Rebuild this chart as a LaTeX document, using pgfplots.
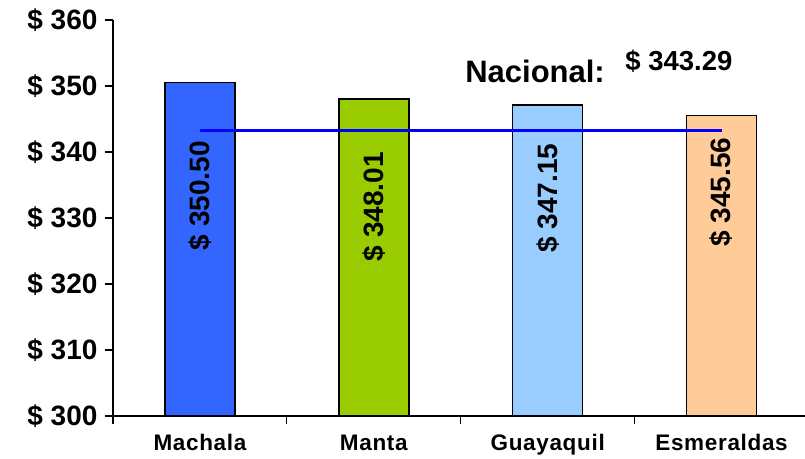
\documentclass[border=0pt]{standalone}
\usepackage{fontspec}
\setmainfont{Liberation Sans}
\usepackage{pgfplots}
\pgfplotsset{compat=1.18}
\definecolor{cMachala}{HTML}{3366FF}
\definecolor{cManta}{HTML}{99CC00}
\definecolor{cGuayaquil}{HTML}{99CCFF}
\definecolor{cEsmeraldas}{HTML}{FFCC99}
\newcommand{\fs}[1]{\bfseries\fontsize{#1}{#1}\selectfont}
\begin{document}
\begin{tikzpicture}
\begin{axis}[
 at={(0,0)}, anchor=south west,
 scale only axis, width=692bp, height=396bp,
 xmin=-0.5, xmax=3.48, ymin=300, ymax=360,
 axis x line*=bottom, axis y line*=left,
 axis line style={line width=1.5bp, black, -},
 every tick/.style={black, line width=1.2bp},
 tick align=outside,
 major tick length=8bp,
 ytick={300,310,...,360},
 yticklabels={\$ 300,\$ 310,\$ 320,\$ 330,\$ 340,\$ 350,\$ 360},
 y tick label style={font=\fs{28bp}, xshift=-4bp},
 xtick={-0.5,0.5,1.5,2.5}, xticklabels={},
 extra x ticks={0,1,2,3},
 extra x tick labels={Machala,Manta,Guayaquil,Esmeraldas},
 extra x tick style={major tick length=0pt, tick label style={font=\fs{22.5bp}\addfontfeature{LetterSpace=3}, yshift=-15bp}},
 ybar, bar width=70bp, bar shift=0pt,
 clip=false,
]
\addplot[fill=cMachala, draw=black, line width=1.5bp] coordinates {(0,350.50)};
\addplot[fill=cManta, draw=black, line width=1.5bp] coordinates {(1,348.01)};
\addplot[fill=cGuayaquil, draw=black, line width=1.5bp] coordinates {(2,347.15)};
\addplot[fill=cEsmeraldas, draw=black, line width=1.5bp] coordinates {(3,345.56)};
\addplot[sharp plot, draw={rgb,255:red,0;green,0;blue,255}, line width=3bp] coordinates {(0,343.29) (3,343.29)};
\node[rotate=90, font=\fs{28bp}] at (axis cs:0,333.4) {\$ 350.50};
\node[rotate=90, font=\fs{28bp}] at (axis cs:1,331.7) {\$ 348.01};
\node[rotate=90, font=\fs{28bp}] at (axis cs:2,333.0) {\$ 347.15};
\node[rotate=90, font=\fs{28bp}] at (axis cs:3,333.9) {\$ 345.56};
\node[anchor=base west, inner sep=0pt, font=\fs{31bp}] at (axis cs:1.525,350.6) {Nacional:};
\node[anchor=base west, inner sep=0pt, font=\fs{27.5bp}] at (axis cs:2.446,352.4) {\$ 343.29};
\end{axis}
\pgfresetboundingbox
\path[use as bounding box] (-113bp,-43bp) rectangle (692bp,416bp);
\end{tikzpicture}
\end{document}
